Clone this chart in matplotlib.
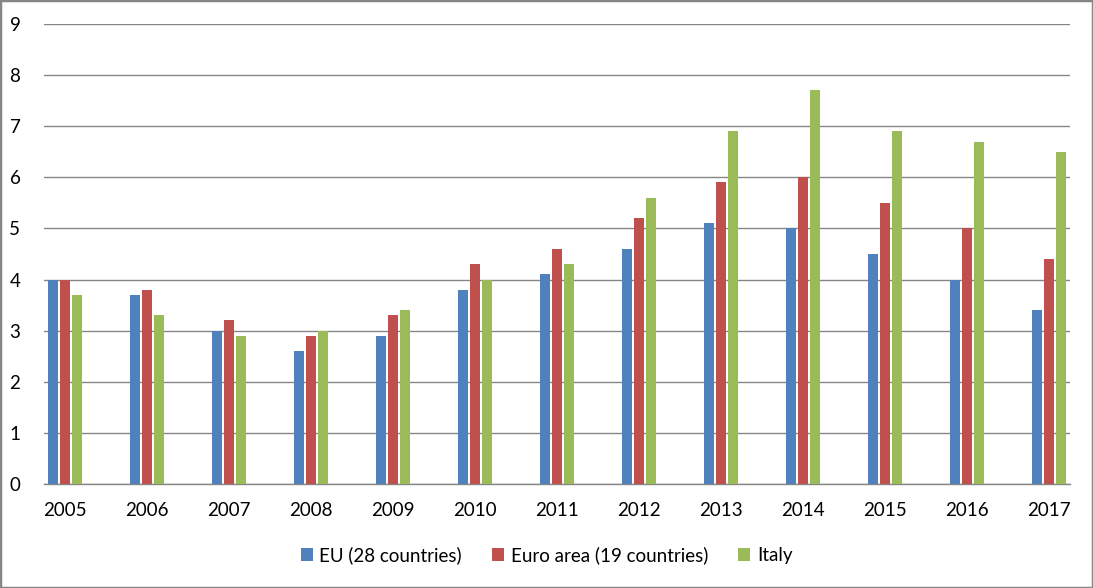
import matplotlib.pyplot as plt
import numpy as np
from matplotlib.patches import Rectangle

years = ['2005', '2006', '2007', '2008', '2009', '2010', '2011',
         '2012', '2013', '2014', '2015', '2016', '2017']
eu = [4.0, 3.7, 3.0, 2.6, 2.9, 3.8, 4.1, 4.6, 5.1, 5.0, 4.5, 4.0, 3.4]
euro = [4.0, 3.8, 3.2, 2.9, 3.3, 4.3, 4.6, 5.2, 5.9, 6.0, 5.5, 5.0, 4.4]
italy = [3.7, 3.3, 2.9, 3.0, 3.4, 4.0, 4.3, 5.6, 6.9, 7.7, 6.9, 6.7, 6.5]
series_names = ['EU (28 countries)', 'Euro area (19 countries)', 'Italy']
colors = ['#4F81BD', '#C0504D', '#9BBB59']

plt.rcParams['font.family'] = ['Lato', 'DejaVu Sans']

W, H = 1093, 588
fig = plt.figure(figsize=(W / 100, H / 100), dpi=100)
ax = fig.add_axes([44 / W, (H - 484) / H, (1070 - 44) / W, (484 - 24) / H])

x = np.arange(len(years))
w = 0.122   # bar width
step = 0.146  # bar offset
for i, (vals, name, c) in enumerate(zip([eu, euro, italy], series_names, colors)):
    ax.bar(x + (i - 1) * step, vals, w, color=c, label=name, zorder=3)

ax.set_xlim(-0.256, 12.256)
ax.set_ylim(0, 9)
ax.set_yticks(range(10))
ax.set_xticks(x)
ax.set_xticklabels(years)
ax.grid(axis='y', color='#868686', linewidth=1.0, zorder=0)
for s in ['top', 'right', 'left']:
    ax.spines[s].set_visible(False)
ax.spines['bottom'].set_color('#868686')
ax.spines['bottom'].set_linewidth(1.0)
ax.tick_params(axis='both', length=0, labelsize=13.5, colors='black')
ax.tick_params(axis='y', pad=17)
ax.tick_params(axis='x', pad=13)
for lbl in ax.get_yticklabels():
    lbl.set_horizontalalignment('right')

leg = fig.legend(loc='center', bbox_to_anchor=(0.5, (H - 555) / H), ncol=3,
                 frameon=False, fontsize=13.5, handlelength=0.65, handleheight=0.65,
                 handletextpad=0.35, columnspacing=1.6)

fig.patches.append(Rectangle((0, 0), 1, 1, transform=fig.transFigure,
                             fill=False, edgecolor='#868686', linewidth=2.5))

fig.savefig('out.png', dpi=100)
